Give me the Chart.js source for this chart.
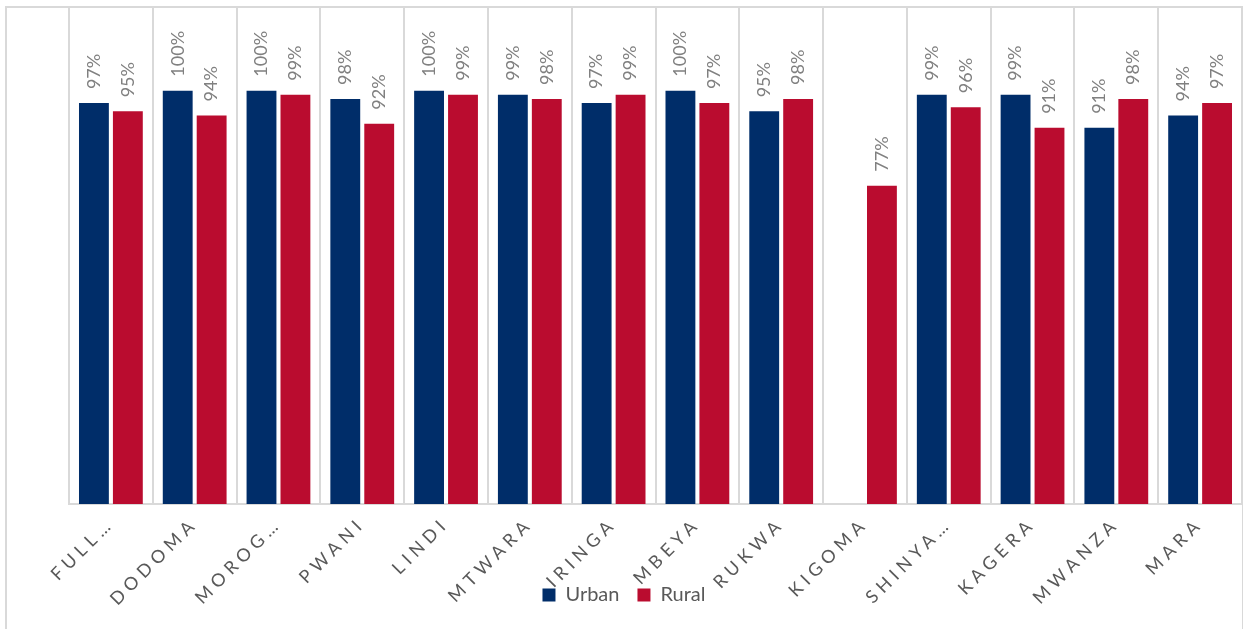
<!DOCTYPE html>
<html>
<head>
<meta charset="utf-8">
<title>Urban / Rural by region</title>
<script src="https://cdn.jsdelivr.net/npm/chart.js@4"></script>
<style>
    html, body { margin: 0; padding: 0; background: #fff; }
    #wrap { width: 1243px; height: 629px; position: relative; }
</style>
</head>
<body>
<div id="wrap"><canvas id="myChart"></canvas></div>
<script>
const regions = ['FULL…', 'DODOMA', 'MOROG…', 'PWANI', 'LINDI', 'MTWARA', 'IRINGA',
    'MBEYA', 'RUKWA', 'KIGOMA', 'SHINYA…', 'KAGERA', 'MWANZA', 'MARA'];
const urbanValues = [97, 100, 100, 98, 100, 99, 97, 100, 95, null, 99, 99, 91, 94];
const ruralValues = [95, 94, 99, 92, 99, 98, 99, 97, 98, 77, 96, 91, 98, 97];

const NAVY = '#002D69';
const RED = '#BA0C2F';
const FONT = 'Lato, "DejaVu Sans", sans-serif';

// category axis: wide letter spacing, and labels may run into the legend row
class SpacedCategoryScale extends Chart.CategoryScale {
    static id = 'spacedCategory';
    static defaults = Chart.CategoryScale.defaults;
    _computeLabelArea() {
        return undefined;
    }
    drawLabels(area) {
        const ctx = this.ctx;
        ctx.save();
        ctx.letterSpacing = '5px';
        super.drawLabels(area);
        ctx.restore();
    }
}
Chart.register(SpacedCategoryScale);

// light frame round the whole chart
const framePlugin = {
    id: 'frame',
    beforeDraw(chart) {
        const ctx = chart.ctx;
        ctx.save();
        ctx.strokeStyle = '#d9d9d9';
        ctx.lineWidth = 2;
        ctx.strokeRect(6, 7, chart.width - 6, chart.height + 20);
        ctx.restore();
    }
};

// vertical percentage labels above each bar
const valueLabels = {
    id: 'valueLabels',
    afterDatasetsDraw(chart) {
        const ctx = chart.ctx;
        ctx.save();
        ctx.fillStyle = '#808080';
        ctx.font = '18px ' + FONT;
        ctx.textAlign = 'left';
        ctx.textBaseline = 'middle';
        chart.data.datasets.forEach((dataset, i) => {
            chart.getDatasetMeta(i).data.forEach((bar, j) => {
                const v = dataset.data[j];
                if (v === null || v === undefined) return;
                ctx.save();
                ctx.translate(bar.x, bar.y - 14);
                ctx.rotate(-Math.PI / 2);
                ctx.fillText(v + '%', 0, 0);
                ctx.restore();
            });
        });
        ctx.restore();
    }
};

const ctx = document.getElementById('myChart').getContext('2d');
new Chart(ctx, {
    type: 'bar',
    data: {
        labels: regions,
        datasets: [
            {
                label: 'Urban',
                data: urbanValues,
                backgroundColor: NAVY,
                borderWidth: 0
            },
            {
                label: 'Rural',
                data: ruralValues,
                backgroundColor: RED,
                borderWidth: 0
            }
        ]
    },
    options: {
        responsive: true,
        maintainAspectRatio: false,
        animation: false,
        categoryPercentage: 0.81,
        barPercentage: 0.88,
        layout: {
            padding: { top: 8, left: 6, right: 1, bottom: 14 }
        },
        scales: {
            x: {
                type: 'spacedCategory',
                grid: {
                    color: '#d9d9d9',
                    lineWidth: 2,
                    drawTicks: false,
                    offset: true
                },
                border: { display: true, color: '#d9d9d9', width: 2 },
                ticks: {
                    color: '#595959',
                    font: { family: FONT, size: 18 },
                    minRotation: 45,
                    maxRotation: 45,
                    autoSkip: false,
                    padding: 9
                },
                afterFit: (scale) => { scale.height = 63; }
            },
            y: {
                min: 0,
                max: 120,
                grid: { display: false },
                border: { display: false },
                ticks: { display: false },
                afterFit: (scale) => { scale.width = 63; }
            }
        },
        plugins: {
            legend: {
                position: 'bottom',
                labels: {
                    color: '#595959',
                    font: { family: FONT, size: 20 },
                    boxWidth: 13,
                    boxHeight: 13,
                    padding: 18
                }
            },
            tooltip: { enabled: false }
        }
    },
    plugins: [framePlugin, valueLabels]
});
</script>
</body>
</html>
